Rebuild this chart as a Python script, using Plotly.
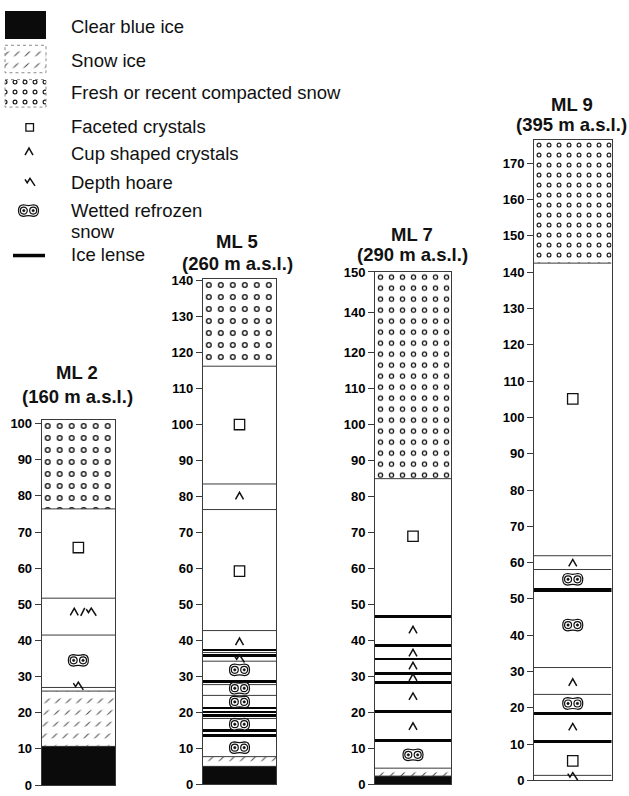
import math
import plotly.graph_objects as go

W, H = 629, 796

# ---------------- snow pit data (depth in cm above ground) ----------------
# layer boundaries from bottom to top, and the texture of each layer
ml2_bounds = [0, 10.7, 26.0, 27.0, 41.5, 51.7, 76.4, 101.0]
ml2_texture = ["ice", "snowice", "plain", "plain", "plain", "plain", "fresh"]
ml2_lenses = []
ml2_marks = [(27.4, "hoar"), (34.5, "wetted"), (47.9, "cup/hoar"), (65.7, "faceted")]
ml2_ticks = list(range(0, 101, 10))
ml2_ticktext = [str(v) for v in ml2_ticks]

ml5_bounds = [0, 5.0, 7.7, 18.3, 24.7, 27.7, 34.2, 36.6, 42.7, 76.3, 83.4, 116.1, 140.3]
ml5_texture = ["ice", "snowice", "plain", "plain", "plain", "plain", "plain",
               "plain", "plain", "plain", "plain", "fresh"]
ml5_lenses = [(13.2, 14.0), (14.6, 15.4), (18.8, 19.5), (19.9, 20.5), (20.8, 21.4),
              (28.2, 29.0), (35.5, 36.2), (36.9, 37.6)]
ml5_marks = [(10.2, "wetted"), (16.7, "wetted"), (22.9, "wetted"), (26.7, "wetted"),
             (31.8, "wetted"), (34.9, "hoar"), (39.6, "cup"), (59.2, "faceted"),
             (80.1, "cup"), (99.9, "faceted")]
ml5_ticks = list(range(0, 141, 10))
ml5_ticktext = [str(v) for v in ml5_ticks]

ml7_bounds = [0, 2.3, 4.5, 84.9, 142.4]
ml7_texture = ["ice", "snowice", "plain", "fresh"]
ml7_lenses = [(11.9, 12.7), (19.8, 20.6), (27.9, 28.7), (30.5, 31.3), (34.4, 35.2),
              (38.2, 39.0), (46.1, 46.9)]
ml7_marks = [(8.2, "wetted"), (16.1, "cup"), (24.4, "cup"), (29.7, "cup"), (32.9, "cup"),
             (36.5, "cup"), (42.9, "cup"), (68.9, "faceted")]
ml7_ticks = list(range(0, 121, 10)) + [131, 142.3]
ml7_ticktext = [str(v) for v in range(0, 121, 10)] + ["140", "150"]

ml9_bounds = [0, 1.4, 23.7, 31.1, 58.1, 61.9, 142.5, 176.4]
ml9_texture = ["plain", "plain", "plain", "plain", "plain", "plain", "fresh"]
ml9_lenses = [(10.4, 11.2), (18.1, 18.9), (51.8, 53.0)]
ml9_marks = [(1.1, "hoar"), (5.4, "faceted"), (14.7, "cup"), (21.2, "wetted"), (27.0, "cup"),
             (42.8, "wetted"), (55.4, "wetted"), (59.9, "cup"), (105.1, "faceted")]
ml9_ticks = list(range(0, 171, 10))
ml9_ticktext = [str(v) for v in ml9_ticks]

site_names = ["ML 2", "ML 5", "ML 7", "ML 9"]
site_alt = ["(160 m a.s.l.)", "(260 m a.s.l.)", "(290 m a.s.l.)", "(395 m a.s.l.)"]

legend_labels = ["Clear blue ice", "Snow ice", "Fresh or recent compacted snow",
                 "Faceted crystals", "Cup shaped crystals", "Depth hoare",
                 "Wetted refrozen", "snow", "Ice lense"]

# ---------------- page geometry (pixels) ----------------
# left, right, y of 0 cm, px per cm, pattern tile, title line y's, title x
geom = [
    dict(l=41.7, r=115.0, base=793.0, k=3.684, tile=12, tx=77, ty=(373, 397)),
    dict(l=202.8, r=276.2, base=792.3, k=3.671, tile=12, tx=237, ty=(239.5, 261)),
    dict(l=375.0, r=451.0, base=792.3, k=3.670, tile=11, tx=412, ty=(232, 252.5)),
    dict(l=534.0, r=611.5, base=788.3, k=3.700, tile=10, tx=571.5, ty=(99.5, 120)),
]
columns = [
    (ml2_bounds, ml2_texture, ml2_lenses, ml2_marks, ml2_ticks, ml2_ticktext),
    (ml5_bounds, ml5_texture, ml5_lenses, ml5_marks, ml5_ticks, ml5_ticktext),
    (ml7_bounds, ml7_texture, ml7_lenses, ml7_marks, ml7_ticks, ml7_ticktext),
    (ml9_bounds, ml9_texture, ml9_lenses, ml9_marks, ml9_ticks, ml9_ticktext),
]

FONT = "Liberation Sans, Arial, sans-serif"
INK = "#111111"
EDGE = "#3a3a3a"


def dot_solidity(radius, tile):
    return math.pi * radius * radius / (tile * tile)


def layer_bars(xr, yr, xc, width, bases, heights, texture, tile):
    """Bar traces for one texture (a second overlay bar builds rings / dashes)."""
    out = []
    common = dict(x=[xc] * len(bases), base=bases, y=heights, width=width,
                  xaxis=xr, yaxis=yr, showlegend=False, hoverinfo="skip")
    if texture == "plain":
        out.append(go.Bar(marker=dict(color="white", line=dict(width=0)), **common))
    elif texture == "ice":
        out.append(go.Bar(marker=dict(color="#0b0b0b", line=dict(width=0)), **common))
    elif texture == "fresh":
        r_out = 3.0 * tile / 12
        r_in = 1.65 * tile / 12
        out.append(go.Bar(marker=dict(color="white", line=dict(width=0),
                                      pattern=dict(shape=".", fillmode="replace", bgcolor="white",
                                                   fgcolor="#111", size=tile,
                                                   solidity=dot_solidity(r_out, tile))), **common))
        out.append(go.Bar(marker=dict(color="white", line=dict(width=0),
                                      pattern=dict(shape=".", fillmode="replace",
                                                   bgcolor="rgba(0,0,0,0)", fgcolor="white",
                                                   size=tile,
                                                   solidity=dot_solidity(r_in, tile))), **common))
    elif texture == "snowice":
        out.append(go.Bar(marker=dict(color="white", line=dict(width=0),
                                      pattern=dict(shape="/", fillmode="replace", bgcolor="white",
                                                   fgcolor="#444", size=7.5, solidity=0.13)),
                          **common))
        out.append(go.Bar(marker=dict(color="white", line=dict(width=0),
                                      pattern=dict(shape="-", fillmode="replace",
                                                   bgcolor="rgba(0,0,0,0)", fgcolor="white",
                                                   size=11.7, solidity=0.6)), **common))
    return out


def mark_shapes(kind, xr, yr, xa, ya, small=False):
    base = dict(xref=xr, yref=yr, xsizemode="pixel", ysizemode="pixel",
                xanchor=xa, yanchor=ya, layer="above")
    pen = dict(color=INK, width=1.5)
    caret = lambda dx: "M%.1f,-3.4 L%.1f,3.6 L%.1f,-3.4" % (dx - 4, dx, dx + 4)
    hoar = lambda dx: "M%.1f,2.8 L%.1f,-0.6 L%.1f,3.8 L%.1f,-3.8" % (dx - 5, dx - 2.8, dx, dx + 5)
    shp = []
    if kind == "faceted":
        h = 3.8 if small else 5.2
        shp.append(dict(type="rect", x0=-h, x1=h, y0=-h, y1=h, line=dict(color=INK, width=1.3),
                        fillcolor="white", **base))
    elif kind == "cup":
        shp.append(dict(type="path", path=caret(0), line=pen, **base))
    elif kind == "hoar":
        shp.append(dict(type="path", path=hoar(0), line=pen, **base))
    elif kind == "cup/hoar":
        shp.append(dict(type="path", path=caret(-8.5), line=pen, **base))
        shp.append(dict(type="path", path="M-2,-4 L2,4", line=pen, **base))
        shp.append(dict(type="path", path=hoar(8.5), line=pen, **base))
    elif kind == "wetted":
        outer = ("M-5,5.8 Q0,4.2 5,5.8 C8.2,5.8 10,3.2 10,0 C10,-3.2 8.2,-5.8 5,-5.8 "
                 "Q0,-4.2 -5,-5.8 C-8.2,-5.8 -10,-3.2 -10,0 C-10,3.2 -8.2,5.8 -5,5.8 Z")
        shp.append(dict(type="path", path=outer, line=dict(color=INK, width=1.2),
                        fillcolor="white", **base))
        for cx in (-4.7, 4.7):
            shp.append(dict(type="circle", x0=cx - 3.5, x1=cx + 3.5, y0=-3.5, y1=3.5,
                            line=dict(color=INK, width=1.2), fillcolor="white", **base))
            shp.append(dict(type="circle", x0=cx - 1.2, x1=cx + 1.2, y0=-1.2, y1=1.2,
                            line=dict(color=INK, width=0.6), fillcolor=INK, **base))
    return shp


fig = go.Figure()
shapes = []
annotations = []
layout_axes = {}

for i, ((bounds, texture, lenses, marks, tvals, ttext), g) in enumerate(zip(columns, geom), start=1):
    sfx = "" if i == 1 else str(i)
    xr, yr = "x" + sfx, "y" + sfx
    top = bounds[-1]
    y_bot = 1 - g["base"] / H
    y_top = 1 - (g["base"] - top * g["k"]) / H

    layout_axes["xaxis" + sfx] = dict(domain=[g["l"] / W, g["r"] / W], range=[0, 1], anchor=yr,
                                      showline=True, mirror=True, linecolor=EDGE, linewidth=1,
                                      showgrid=False, zeroline=False, showticklabels=False,
                                      ticks="", fixedrange=True)
    layout_axes["yaxis" + sfx] = dict(domain=[y_bot, y_top], range=[0, top], anchor=xr,
                                      showline=True, mirror=True, linecolor=EDGE, linewidth=1,
                                      showgrid=False, zeroline=False, ticks="outside",
                                      ticklen=6, tickwidth=1, tickcolor=EDGE,
                                      tickmode="array", tickvals=tvals,
                                      ticktext=["<b>%s</b>" % t for t in ttext],
                                      ticklabelstandoff=0,
                                      tickfont=dict(family=FONT, size=13, color="#000"),
                                      fixedrange=True)

    # layers grouped by texture
    for tex in ["plain", "fresh", "snowice", "ice"]:
        idx = [j for j, t in enumerate(texture) if t == tex]
        if not idx:
            continue
        bases = [bounds[j] for j in idx]
        heights = [bounds[j + 1] - bounds[j] for j in idx]
        for tr in layer_bars(xr, yr, 0.5, 1.0, bases, heights, tex, g["tile"]):
            fig.add_trace(tr)

    # ice lenses
    if lenses:
        fig.add_trace(go.Bar(x=[0.5] * len(lenses), base=[a for a, b in lenses],
                             y=[b - a for a, b in lenses], width=1.0,
                             marker=dict(color="#050505", line=dict(width=0)),
                             xaxis=xr, yaxis=yr, showlegend=False, hoverinfo="skip"))

    # thin layer boundaries
    bx, by = [], []
    for b in bounds[1:-1]:
        bx += [0, 1, None]
        by += [b, b, None]
    fig.add_trace(go.Scatter(x=bx, y=by, mode="lines", line=dict(color=EDGE, width=1),
                             xaxis=xr, yaxis=yr, showlegend=False, hoverinfo="skip"))

    # crystal symbols
    for val, kind in marks:
        xa = 0.56 if kind == "cup/hoar" else 0.5
        shapes += mark_shapes(kind, xr, yr, xa, val)

    # titles
    for line_txt, ty in ((site_names[i - 1], g["ty"][0]), (site_alt[i - 1], g["ty"][1])):
        annotations.append(dict(text="<b>%s</b>" % line_txt, x=g["tx"] / W, y=1 - ty / H,
                                xref="paper", yref="paper", xanchor="center", yanchor="middle",
                                showarrow=False, font=dict(family=FONT, size=18.5, color=INK)))

# ---------------- key (pixel-unit axis in the top-left corner) ----------------
KEY_W, KEY_H = 62, 270
layout_axes["xaxis5"] = dict(domain=[0, KEY_W / W], range=[0, KEY_W], anchor="y5", visible=False,
                             fixedrange=True)
layout_axes["yaxis5"] = dict(domain=[1 - KEY_H / H, 1], range=[KEY_H, 0], anchor="x5",
                             visible=False, fixedrange=True)

swatches = [("ice", 4, 33), ("snowice", 39, 67), ("fresh", 74, 102)]
for tex, y0, y1 in swatches:
    for tr in layer_bars("x5", "y5", 25.5, 41, [y0], [y1 - y0], tex, 10):
        fig.add_trace(tr)
    if tex != "ice":
        shapes.append(dict(type="rect", xref="x5", yref="y5", x0=5, x1=46, y0=y0, y1=y1,
                           line=dict(color="#8a8a8a", width=1, dash="dot"), layer="above"))

shapes += mark_shapes("faceted", "x5", "y5", 29.7, 122.7, small=True)
shapes += mark_shapes("cup", "x5", "y5", 29.0, 147.5)
shapes += mark_shapes("hoar", "x5", "y5", 30.0, 178.5)
shapes += mark_shapes("wetted", "x5", "y5", 28.5, 207.5)
shapes.append(dict(type="line", xref="x5", yref="y5", x0=13, x1=45, y0=253.3, y1=253.3,
                   line=dict(color="#050505", width=3.5), layer="above"))

legend_y = [20, 54.5, 87, 121.5, 149, 178.5, 207, 229, 252]
for txt, yy in zip(legend_labels, legend_y):
    annotations.append(dict(text=txt, x=69 / W, y=1 - yy / H, xref="paper", yref="paper",
                            xanchor="left", yanchor="middle", showarrow=False,
                            font=dict(family=FONT, size=18.5, color=INK)))

fig.update_layout(
    width=W, height=H, autosize=False,
    margin=dict(l=0, r=0, t=0, b=0, pad=0),
    paper_bgcolor="white", plot_bgcolor="white",
    barmode="overlay", bargap=0,
    showlegend=False,
    shapes=shapes, annotations=annotations,
    **layout_axes,
)

fig.write_html("out.html", config={"displayModeBar": False, "staticPlot": True})
